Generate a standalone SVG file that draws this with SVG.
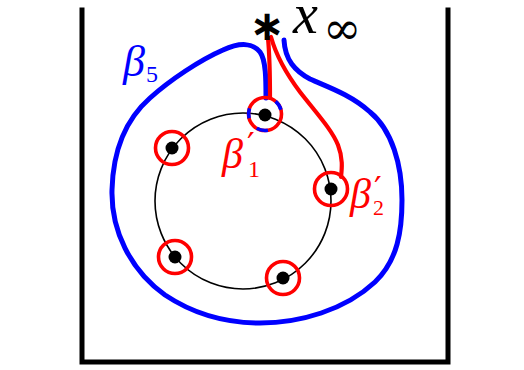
<svg xmlns="http://www.w3.org/2000/svg" width="524" height="370" viewBox="0 0 524 370">
<style>
.box{fill:none;stroke:#000;stroke-width:5;stroke-linecap:square}
.ring{fill:none;stroke:#000;stroke-width:1.6}
.dot{fill:#000}
.rc{fill:none;stroke:#ff0000;stroke-width:3.6}
.bc{fill:none;stroke:#0000ff;stroke-width:3.6}
.blue{fill:none;stroke:#0000ff;stroke-width:5;stroke-linecap:round;stroke-linejoin:round}
.red{fill:none;stroke:#ff0000;stroke-width:4.2;stroke-linecap:round;stroke-linejoin:round}
.lab{font-family:"Liberation Serif","DejaVu Serif",serif;font-style:italic}
.up{font-family:"Liberation Serif","DejaVu Serif",serif;font-style:normal}
.pr{font-family:"DejaVu Sans",sans-serif;font-style:normal}
</style>
<rect width="524" height="370" fill="#fff"/>
<path class="box" d="M82,10 L82,362 L448,362 L448,10"/>
<g id="ring"><circle class="ring" cx="243" cy="201" r="88"/></g>
<g id="connectors">
<path id="beta5" class="blue" d="M266,98 C266,80 266,60 260,52 C253,43 240,42 223,50 C200,60 170,80 150,98 C125,120 113,150 112,190 C111,230 130,270 165,295 C195,315 225,323 260,323 C300,323 345,310 375,282 C398,260 402,230 402,200 C402,165 392,130 370,112 C350,94 325,86 310,79 C295,71 285,60 284,40"/>
<path id="beta1" class="red" d="M270,98 C270,80 270,60 268,38"/>
<path id="beta2" class="red" d="M271,37 C276,55 285,72 300,92 C318,115 332,130 338,145 C343,158 342,168 341,177"/>
</g>
<g id="p1">
<circle class="rc" cx="265" cy="114" r="16.5"/>
<path class="bc" d="M249.1,118.3 A16.5,16.5 0 0 1 249.5,108.4"/>
<path class="bc" d="M275.6,101.4 A16.5,16.5 0 0 1 280.9,109.7"/>
<path class="bc" d="M267.9,130.2 A16.5,16.5 0 0 1 256.75,128.3"/>
<circle class="dot" cx="265" cy="115" r="6.5"/>
</g>
<g id="p2"><circle class="rc" cx="331" cy="189" r="16.5"/><circle class="dot" cx="331" cy="189" r="6.5"/></g>
<g id="p3"><circle class="rc" cx="283" cy="278" r="16.5"/><circle class="dot" cx="283" cy="278" r="6.5"/></g>
<g id="p4"><circle class="rc" cx="175" cy="257" r="16.5"/><circle class="dot" cx="175" cy="257" r="6.5"/></g>
<g id="p5"><circle class="rc" cx="172" cy="148" r="16.5"/><circle class="dot" cx="172" cy="148" r="6.5"/></g>
<g id="base">
<text x="267" y="40" text-anchor="middle" font-family="DejaVu Sans, sans-serif" font-weight="bold" font-size="42">∗</text>
<text x="293" y="33" class="lab" font-size="56">x</text>
<text x="323" y="44" font-family="DejaVu Serif, serif" font-size="46">∞</text>
</g>
<g id="labels">
<text class="lab" font-size="44" fill="#0000ff"><tspan x="123" y="76">β</tspan><tspan class="up" font-size="24" x="146" y="82">5</tspan></text>
<text class="lab" font-size="42" fill="#ff0000"><tspan x="222" y="168">β</tspan><tspan class="pr" font-size="34" x="247" y="157">′</tspan><tspan class="up" font-size="24" x="248" y="177">1</tspan></text>
<text class="lab" font-size="42" fill="#ff0000"><tspan x="350" y="208">β</tspan><tspan class="pr" font-size="34" x="374" y="201">′</tspan><tspan class="up" font-size="22" x="373" y="215">2</tspan></text>
</g>
</svg>
